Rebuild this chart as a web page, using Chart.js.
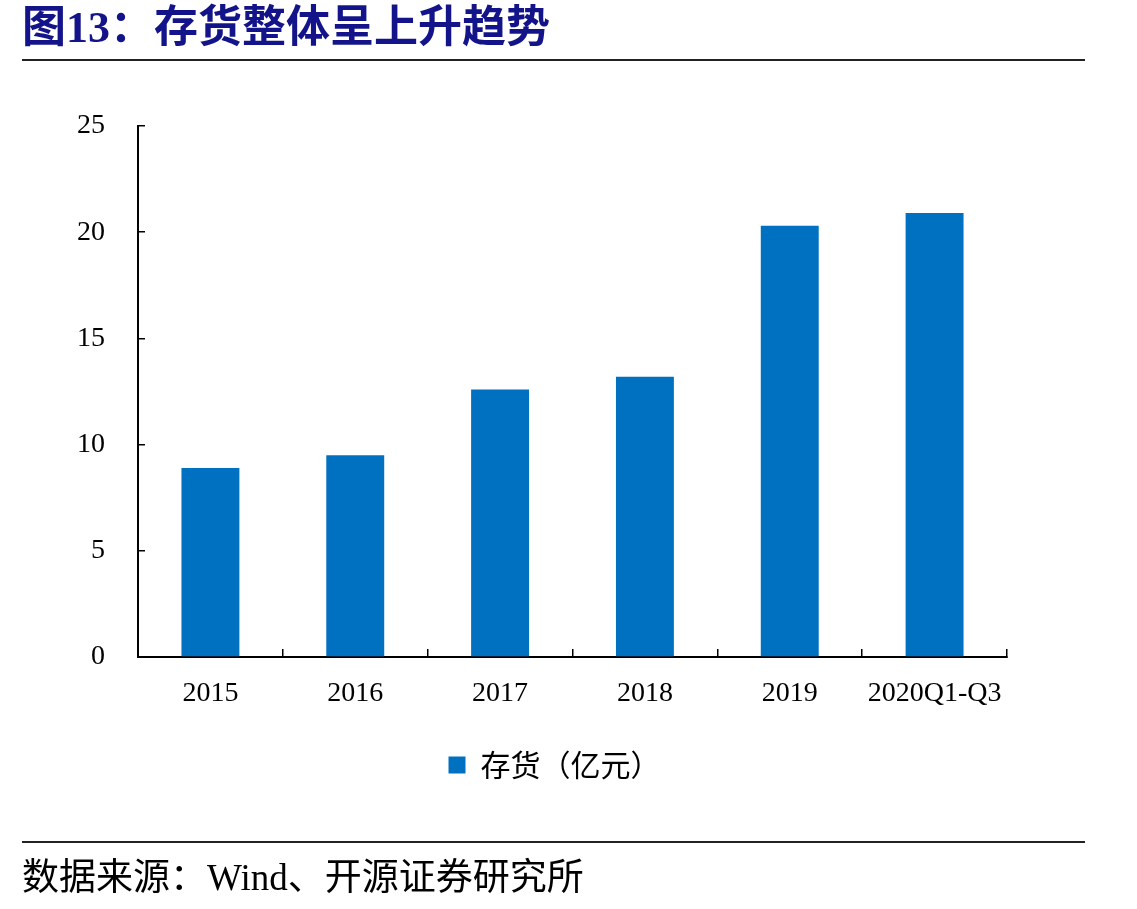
<!DOCTYPE html>
<html><head><meta charset="utf-8">
<script src="https://cdn.jsdelivr.net/npm/chart.js@4"></script>
<style>
html,body{margin:0;padding:0;background:#fff;width:1137px;height:909px;overflow:hidden}
#wrap{position:relative;width:1137px;height:909px}
#title{position:absolute;left:22px;top:2px;font:bold 44px "Liberation Serif","Noto Sans CJK SC";color:#14148a;white-space:nowrap;line-height:52px}
.rule{position:absolute;left:22px;width:1063px;height:2px;background:#222}
#src{position:absolute;left:22px;top:856px;font:37px "Liberation Serif","Noto Sans CJK SC";color:#000;white-space:nowrap;line-height:44px}
canvas{position:absolute;left:0;top:0}
</style>
</head><body>
<div id="wrap">
<canvas id="c" width="1137" height="909"></canvas>
<div id="title">图13：存货整体呈上升趋势</div>
<div class="rule" style="top:59px"></div>
<div class="rule" style="top:841px"></div>
<div id="src">数据来源：Wind、开源证券研究所</div>
</div>
<script>
const categories = ['2015', '2016', '2017', '2018', '2019', '2020Q1-Q3'];
const inventory = [8.9, 9.5, 12.6, 13.2, 20.3, 20.9];
const seriesName = '存货（亿元）';
const yMin = 0, yMax = 25, yStep = 5;

const serif = '"Liberation Serif", "Times New Roman", serif';

const legendShift = {
  id: 'legendShift',
  afterLayout(chart) {
    const lg = chart.legend;
    if (lg) { lg.left += 16; lg.right += 16; }
  }
};

new Chart(document.getElementById('c').getContext('2d'), {
  type: 'bar',
  data: {
    labels: categories,
    datasets: [{
      label: seriesName,
      data: inventory,
      backgroundColor: '#0070C0',
      borderWidth: 0,
      categoryPercentage: 1,
      barPercentage: 0.4
    }]
  },
  plugins: [legendShift],
  options: {
    responsive: false,
    animation: false,
    layout: { padding: { left: 70, right: 130, top: 126, bottom: 119 } },
    plugins: {
      legend: {
        position: 'bottom',
        labels: {
          boxWidth: 17, boxHeight: 17, padding: 10, color: '#000',
          font: { family: '"Noto Sans CJK SC"', size: 30 }
        }
      },
      tooltip: { enabled: false }
    },
    scales: {
      x: {
        grid: { display: true, drawOnChartArea: false, drawTicks: true, tickLength: -8, color: '#000', lineWidth: 1.5, offset: true },
        border: { display: true, color: '#000', width: 2 },
        ticks: { color: '#000', font: { family: serif, size: 28 }, padding: 28, maxRotation: 0, autoSkip: false },
        afterFit(s) { s.height = 83; }
      },
      y: {
        min: yMin, max: yMax,
        ticks: { stepSize: yStep, color: '#000', font: { family: serif, size: 28 }, padding: 40 },
        grid: { drawOnChartArea: false, drawTicks: true, tickLength: -7, color: '#000', lineWidth: 1.5 },
        border: { display: true, color: '#000', width: 2 },
        afterFit(s) { s.width = 68; }
      }
    }
  }
});
</script>
</body></html>
